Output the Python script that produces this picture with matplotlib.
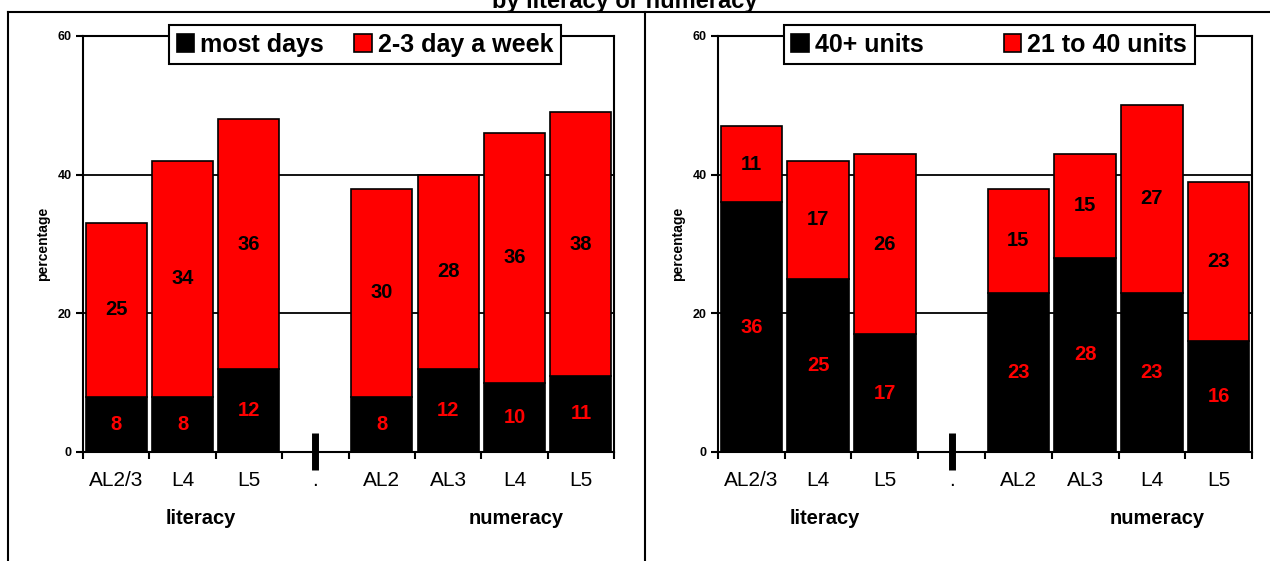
import numpy as np
import matplotlib
matplotlib.use('Agg')
import matplotlib.pyplot as plt
from matplotlib.lines import Line2D
from matplotlib.patches import Patch
from matplotlib import transforms

plt.rcParams['font.family'] = ['Liberation Sans', 'DejaVu Sans']

# data
categories = ["AL2/3", "L4", "L5", ".", "AL2", "AL3", "L4", "L5"]
break_slot = 3
most_days = [8, 8, 12, 0, 8, 12, 10, 11]
two_three_days = [25, 34, 36, 0, 30, 28, 36, 38]
units_40_plus = [36, 25, 17, 0, 23, 28, 23, 16]
units_21_40 = [11, 17, 26, 0, 15, 15, 27, 23]
y_ticks = [0, 20, 40, 60]

RED = '#ff0000'
W, H = 1270, 561

fig = plt.figure(figsize=(12.7, 5.61), dpi=100)


def panel(rect, bottom_vals, top_vals, names, legend_x, colspacing, group_x):
    ax = fig.add_axes(rect)
    x = np.arange(len(categories))
    keep = x != break_slot
    bv = np.array(bottom_vals, dtype=float)
    tv = np.array(top_vals, dtype=float)

    ax.bar(x[keep], bv[keep], width=0.92, color='black', edgecolor='black',
           linewidth=1.2, zorder=3, label=names[0])
    ax.bar(x[keep], tv[keep], bottom=bv[keep], width=0.92, color=RED,
           edgecolor='black', linewidth=1.2, zorder=3, label=names[1])

    for xi, b, t in zip(x[keep], bv[keep], tv[keep]):
        ax.text(xi, b / 2, '%d' % b, ha='center', va='center', color=RED,
                fontsize=14.5, fontweight='bold', zorder=4)
        ax.text(xi, b + t / 2, '%d' % t, ha='center', va='center', color='black',
                fontsize=14.5, fontweight='bold', zorder=4)

    # break marker at the empty slot
    ax.plot([break_slot, break_slot], [-2.6, 2.7], color='black', lw=5,
            solid_capstyle='butt', clip_on=False, zorder=5)

    ax.set_xlim(-0.5, len(categories) - 0.5)
    ax.set_ylim(0, 60)
    ax.set_yticks(y_ticks)
    ax.set_yticklabels([str(v) for v in y_ticks], fontsize=9, fontweight='bold')
    ax.tick_params(axis='y', direction='out', length=5, width=1.5, pad=3)
    ax.set_xticks(x)
    ax.set_xticklabels(categories, fontsize=15)
    ax.tick_params(axis='x', which='major', length=0, pad=14)
    ax.set_xticks(np.arange(-0.5, len(categories)), minor=True)
    ax.tick_params(axis='x', which='minor', direction='out', length=5, width=1.5)

    for y in y_ticks[1:-1]:
        ax.axhline(y, color='black', lw=1.3, zorder=1)
    for s in ax.spines.values():
        s.set_linewidth(1.5)

    ax.text(-40 / (rect[2] * W), 0.5, 'percentage', transform=ax.transAxes,
            rotation=90, ha='center', va='center', fontsize=10, fontweight='bold')

    trans = transforms.blended_transform_factory(ax.transData, ax.transAxes)
    ax.text(group_x[0], -0.161, 'literacy', transform=trans, ha='center',
            va='center', fontsize=14.5, fontweight='bold')
    ax.text(group_x[1], -0.161, 'numeracy', transform=trans, ha='center',
            va='center', fontsize=14.5, fontweight='bold')

    handles = [Patch(facecolor='black', edgecolor='black', lw=1.2),
               Patch(facecolor=RED, edgecolor='black', lw=1.2)]
    leg = ax.legend(handles, names, loc='upper center', ncol=2,
                    bbox_to_anchor=(legend_x, 1.026), borderaxespad=0,
                    frameon=True, fancybox=False,
                    framealpha=1, edgecolor='black', borderpad=0.3,
                    handlelength=0.7, handleheight=0.7, handletextpad=0.25,
                    columnspacing=colspacing,
                    prop={'size': 18, 'weight': 'bold'})
    leg.get_frame().set_linewidth(1.5)
    leg.set_zorder(10)
    return ax


top = 1 - 452 / H
height = 416 / H
panel([83 / W, top, 531 / W, height], most_days, two_three_days,
      ['most days', '2-3 day a week'], 0.531, 1.2, (1.27, 6.02))
panel([718 / W, top, 534 / W, height], units_40_plus, units_21_40,
      ['40+ units', '21 to 40 units'], 0.5075, 3.2, (1.1, 6.08))

# frame lines of the original sheet
ly = 1 - 12 / H
fig.add_artist(Line2D([8 / W, 1], [ly, ly], color='black', lw=1.5))
fig.add_artist(Line2D([8 / W, 8 / W], [0, ly], color='black', lw=1.5))
fig.add_artist(Line2D([645 / W, 645 / W], [0, ly], color='black', lw=1.5))

fig.text(625 / W, 1 - 8 / H, 'by literacy or numeracy', ha='center',
         va='baseline', fontsize=17, fontweight='bold')

fig.savefig('out.png', dpi=100)
